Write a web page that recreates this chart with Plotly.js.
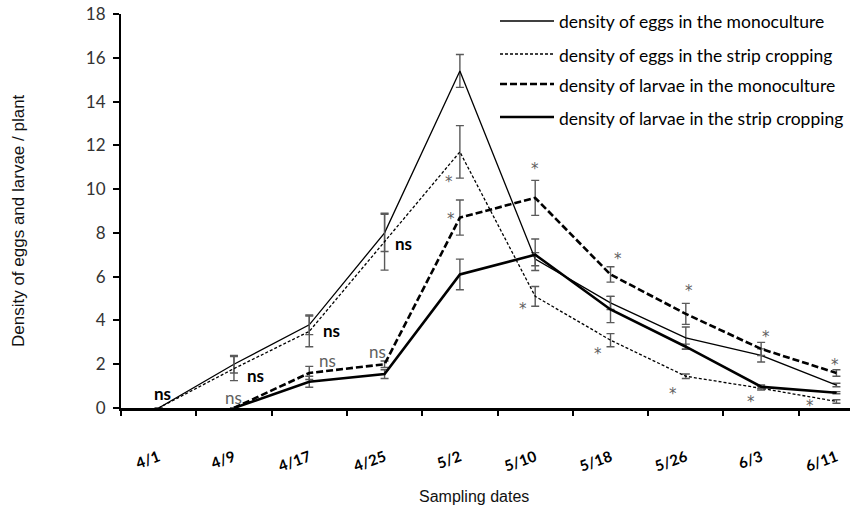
<!DOCTYPE html>
<html><head><meta charset="utf-8">
<script src="https://cdn.plot.ly/plotly-3.0.1.min.js"></script>
<style>html,body{margin:0;padding:0;background:#fff}#chart{width:850px;height:513px}</style>
</head><body><div id="chart"></div>
<script>
// ---- data ----
const dates = ['4/1','4/9','4/17','4/25','5/2','5/10','5/18','5/26','6/3','6/11'];
const eggsMono       = [0, 2.0, 3.8, 8.0, 15.4, 6.8, 4.8, 3.2, 2.4, 1.05];
const eggsMonoErr    = [null, 0.4, 0.45, 0.85, 0.75, 0.3, 0.3, 0.5, 0.3, 0.08];
const eggsStrip      = [0, 1.8, 3.5, 7.6, 11.7, 5.1, 3.1, 1.45, 0.9, 0.3];
const eggsStripErr   = [null, 0.55, 0.7, 1.3, 1.2, 0.45, 0.3, 0.1, 0.08, 0.08];
const larvaeMono     = [null, 0, 1.6, 2.0, 8.7, 9.6, 6.1, 4.3, 2.7, 1.6];
const larvaeMonoErr  = [null, null, 0.3, 0.15, 0.8, 0.8, 0.35, 0.48, 0.3, 0.15];
const larvaeStrip    = [null, 0, 1.2, 1.55, 6.1, 7.0, 4.5, 2.8, 0.97, 0.7];
const larvaeStripErr = [null, null, 0.25, 0.2, 0.7, 0.72, 0.6, 0.12, 0.08, 0.05];
const seriesNames = [
  'density of eggs in the monoculture',
  'density of eggs in the strip cropping',
  'density of larvae in the monoculture',
  'density of larvae in the strip cropping'
];
// significance labels: [category position, value, text, bold]
const sigLabels = [
  [0.05, 0.68, 'ns', true],
  [0.99, 0.5, 'ns', false],
  [1.28, 1.5, 'ns', true],
  [2.24, 2.15, 'ns', false],
  [2.3, 3.56, 'ns', true],
  [2.9, 2.56, 'ns', false],
  [3.25, 7.53, 'ns', true],
  [3.86, 10.5, '*', false],
  [3.88, 8.81, '*', false],
  [5.0, 11.1, '*', false],
  [4.84, 4.7, '*', false],
  [6.1, 6.99, '*', false],
  [5.84, 2.65, '*', false],
  [7.04, 5.53, '*', false],
  [6.83, 0.82, '*', false],
  [8.07, 3.42, '*', false],
  [7.86, 0.46, '*', false],
  [8.98, 2.15, '*', false],
  [8.65, 0.27, '*', false]
];

// ---- styling ----
const ERR = '#5a5a5a';
const styles = [
  {width: 1.3, dash: 'solid'},
  {width: 1.3, dash: '3px,2px'},
  {width: 2.6, dash: '7px,3px'},
  {width: 2.6, dash: 'solid'}
];
const vals = [eggsMono, eggsStrip, larvaeMono, larvaeStrip];
const errs = [eggsMonoErr, eggsStripErr, larvaeMonoErr, larvaeStripErr];

const traces = vals.map((v, i) => ({
  type: 'scatter', mode: 'lines', x: dates, y: v, name: seriesNames[i],
  line: {color: '#000', width: styles[i].width, dash: styles[i].dash},
  error_y: {type: 'data', array: errs[i], visible: true, color: ERR, thickness: 1.4, width: 4},
  showlegend: false, connectgaps: false, cliponaxis: false
}));

const M = {l: 121, r: 0, t: 14, b: 105};
const W = 850, H = 513;
const PW = W - M.l - M.r, PH = H - M.t - M.b;
const px = x => (x - M.l) / PW;
const py = y => (H - M.b - y) / PH;

const annotations = sigLabels.map(s => ({
  x: s[0], y: s[1], xref: 'x', yref: 'y', text: s[2], showarrow: false,
  xanchor: 'center', yanchor: 'middle',
  yshift: s[2] === '*' ? -4 : 0,
  font: s[2] === '*'
    ? {family: 'DejaVu Sans, sans-serif', size: 15, color: '#606060'}
    : {family: 'Lato, sans-serif', size: 17,
       color: s[3] ? '#000' : '#606060', weight: s[3] ? 'bold' : 'normal'}
}));

// legend (manual)
const legY = [21, 54, 84, 117];
const shapes = [];
legY.forEach((y, i) => {
  shapes.push({type: 'line', xref: 'paper', yref: 'paper',
    x0: px(500), x1: px(554), y0: py(y), y1: py(y),
    line: {color: '#000', width: styles[i].width, dash: styles[i].dash}});
  annotations.push({xref: 'paper', yref: 'paper', x: px(557), y: py(y + 1),
    xanchor: 'left', yanchor: 'middle', showarrow: false, text: seriesNames[i],
    font: {family: 'Lato, sans-serif', size: 17.5, color: '#000'}});
});
// axis titles
annotations.push({xref: 'paper', yref: 'paper', x: px(18), y: py(220), textangle: -90,
  xanchor: 'center', yanchor: 'middle',
  showarrow: false, text: 'Density of eggs and larvae / plant',
  font: {family: 'Liberation Sans, Arial, sans-serif', size: 17, color: '#111'}});
annotations.push({xref: 'paper', yref: 'paper', x: px(474), y: py(496),
  xanchor: 'center', yanchor: 'middle',
  showarrow: false, text: 'Sampling dates',
  font: {family: 'Liberation Sans, Arial, sans-serif', size: 16, color: '#111'}});

const layout = {
  width: W, height: H, margin: M, paper_bgcolor: '#fff', plot_bgcolor: '#fff',
  showlegend: false,
  xaxis: {type: 'category', range: [-0.5, 9.18], tickson: 'boundaries',
    ticks: 'outside', ticklen: 5, tickwidth: 2, tickcolor: '#000',
    showline: true, linewidth: 3, linecolor: '#000', showgrid: false, zeroline: false,
    tickangle: -20, ticklabelstandoff: 32,
    tickfont: {family: 'Lato, sans-serif', size: 15, color: '#000', weight: 'bold'}},
  yaxis: {range: [0, 18], tickvals: [0,2,4,6,8,10,12,14,16,18],
    ticks: 'outside', ticklen: 6, tickwidth: 2, tickcolor: '#000',
    showline: true, linewidth: 2, linecolor: '#000', showgrid: false, zeroline: false,
    ticklabelstandoff: 4,
    tickfont: {family: 'Lato, sans-serif', size: 17, color: '#333'}},
  annotations: annotations, shapes: shapes
};
Plotly.newPlot('chart', traces, layout, {displayModeBar: false, staticPlot: true});
</script></body></html>
